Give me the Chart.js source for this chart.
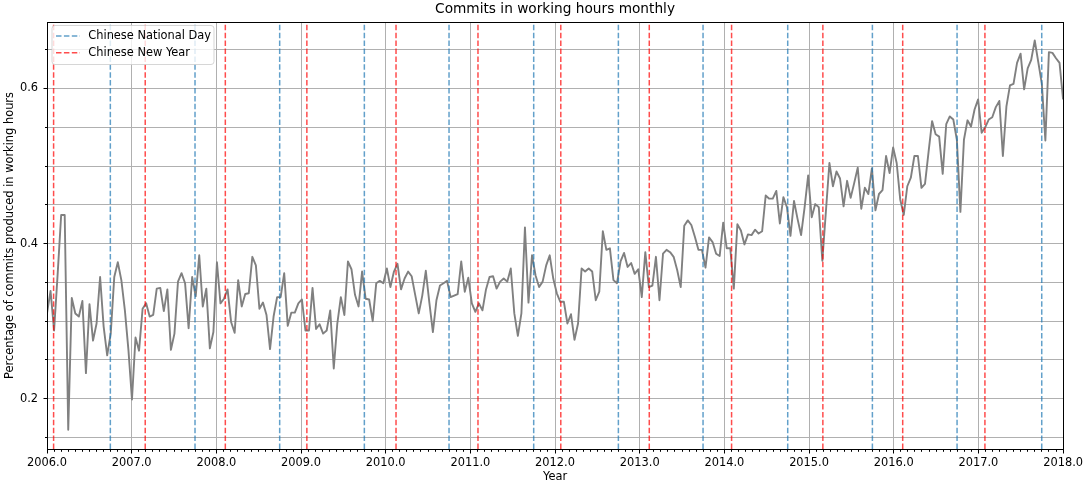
<!DOCTYPE html>
<html>
<head>
<meta charset="utf-8">
<title>Commits in working hours monthly</title>
<script src="https://cdn.jsdelivr.net/npm/chart.js@4.4.1/dist/chart.umd.min.js"></script>
<style>
  html, body { margin: 0; padding: 0; background: #fff; }
  #box { position: relative; width: 1086px; height: 484px; }
</style>
</head>
<body>
<div id="box"><canvas id="chart" width="1086" height="484"></canvas></div>
<script>
const FIRST_YEAR = 2006;
const LAST_YEAR = 2018;
const Y_MIN = 0.1352;
const Y_MAX = 0.6858;

const chartTitle = 'Commits in working hours monthly';
const xTitle = 'Year';
const yTitle = 'Percentage of commits produced in working hours';
const nationalDayLabel = 'Chinese National Day';
const newYearLabel = 'Chinese New Year';

// Share of commits made during working hours, 24 samples per year (2006 .. 2017)
const workingShare = [
  0.310, 0.339, 0.288, 0.360, 0.437, 0.437, 0.160, 0.330, 0.310, 0.306, 0.326, 0.233, 0.322, 0.275, 0.297, 0.357, 0.293, 0.256, 0.284, 0.357, 0.376, 0.353, 0.314, 0.263,
  0.199, 0.279, 0.262, 0.316, 0.323, 0.306, 0.308, 0.342, 0.343, 0.313, 0.341, 0.263, 0.284, 0.351, 0.362, 0.349, 0.291, 0.357, 0.332, 0.385, 0.319, 0.342, 0.265, 0.286,
  0.376, 0.323, 0.329, 0.341, 0.299, 0.285, 0.353, 0.319, 0.335, 0.336, 0.383, 0.372, 0.316, 0.324, 0.308, 0.264, 0.306, 0.331, 0.331, 0.362, 0.294, 0.311, 0.311, 0.323,
  0.328, 0.288, 0.288, 0.343, 0.290, 0.296, 0.284, 0.288, 0.314, 0.239, 0.297, 0.331, 0.308, 0.377, 0.367, 0.334, 0.319, 0.364, 0.329, 0.328, 0.300, 0.349, 0.352, 0.349,
  0.368, 0.344, 0.364, 0.374, 0.341, 0.355, 0.364, 0.358, 0.334, 0.310, 0.333, 0.365, 0.324, 0.286, 0.327, 0.346, 0.349, 0.352, 0.331, 0.333, 0.335, 0.377, 0.338, 0.356,
  0.323, 0.312, 0.323, 0.314, 0.341, 0.357, 0.358, 0.342, 0.351, 0.355, 0.351, 0.368, 0.310, 0.281, 0.310, 0.421, 0.324, 0.385, 0.359, 0.344, 0.351, 0.372, 0.385, 0.355,
  0.336, 0.325, 0.325, 0.297, 0.309, 0.276, 0.297, 0.368, 0.364, 0.368, 0.364, 0.327, 0.338, 0.416, 0.392, 0.394, 0.353, 0.349, 0.377, 0.388, 0.370, 0.375, 0.361, 0.367,
  0.331, 0.389, 0.344, 0.346, 0.383, 0.327, 0.387, 0.392, 0.389, 0.383, 0.366, 0.344, 0.423, 0.430, 0.424, 0.409, 0.392, 0.392, 0.369, 0.408, 0.402, 0.387, 0.384, 0.427,
  0.394, 0.394, 0.342, 0.425, 0.417, 0.399, 0.412, 0.411, 0.418, 0.413, 0.416, 0.462, 0.458, 0.458, 0.468, 0.426, 0.460, 0.447, 0.410, 0.455, 0.432, 0.411, 0.447, 0.488,
  0.434, 0.451, 0.447, 0.378, 0.441, 0.504, 0.474, 0.493, 0.484, 0.448, 0.481, 0.459, 0.478, 0.498, 0.445, 0.472, 0.464, 0.497, 0.443, 0.464, 0.469, 0.513, 0.491, 0.524,
  0.504, 0.457, 0.437, 0.474, 0.485, 0.513, 0.513, 0.472, 0.477, 0.518, 0.558, 0.541, 0.538, 0.490, 0.554, 0.564, 0.560, 0.534, 0.441, 0.534, 0.559, 0.551, 0.573, 0.586,
  0.543, 0.550, 0.560, 0.563, 0.576, 0.584, 0.513, 0.577, 0.604, 0.606, 0.633, 0.645, 0.599, 0.626, 0.637, 0.662, 0.634, 0.606, 0.533, 0.647, 0.646, 0.639, 0.633, 0.586
];

// Holiday markers, as fractional years
const nationalDays = [2006.748, 2007.748, 2008.748, 2009.748, 2010.748, 2011.748,
                      2012.748, 2013.748, 2014.748, 2015.748, 2016.748, 2017.748];
const newYearDays  = [2006.078, 2007.160, 2008.106, 2009.069, 2010.122, 2011.090,
                      2012.068, 2013.113, 2014.085, 2015.163, 2016.106, 2017.077];

const FONT = '"DejaVu Sans", "Liberation Sans", sans-serif';
const GRID = '#b0b0b0';

// samples are spread evenly over the whole period
const span = LAST_YEAR - FIRST_YEAR;
const shareData = workingShare.map((v, i) => ({ x: FIRST_YEAR + i * span / (workingShare.length - 1), y: v }));

// one vertical segment per holiday, separated by gaps
function markerData(positions) {
  const pts = [];
  positions.forEach(x => { pts.push({ x, y: Y_MIN }, { x, y: Y_MAX }, { x, y: null }); });
  return pts;
}

function isLabelled(v) { return Math.abs(v * 5 - Math.round(v * 5)) < 1e-6; }
function crisp(v) { return Math.round(v - 0.5) + 0.5; }

const decorations = {
  id: 'decorations',
  afterDraw(chart) {
    const { ctx, chartArea: a, scales: { x, y } } = chart;
    ctx.save();
    ctx.setLineDash([]);

    // axes frame
    ctx.strokeStyle = '#000';
    ctx.lineWidth = 1;
    const L = crisp(a.left), R = crisp(a.right), T = crisp(a.top), B = crisp(a.bottom);
    ctx.strokeRect(L, T, R - L, B - T);

    // tick marks: years / months on x, every gridline on y
    ctx.beginPath();
    for (let yr = FIRST_YEAR; yr <= LAST_YEAR; yr++) {
      for (let m = 0; m < 12; m++) {
        if (yr === LAST_YEAR && m > 0) break;
        const px = crisp(x.getPixelForValue(yr + m / 12));
        const len = m === 0 ? 4 : 2.3;
        ctx.moveTo(px, B); ctx.lineTo(px, B + len);
      }
    }
    y.ticks.forEach(t => {
      const py = crisp(y.getPixelForValue(t.value));
      const len = isLabelled(t.value) ? 4 : 2.5;
      ctx.moveTo(L, py); ctx.lineTo(L - len, py);
    });
    ctx.stroke();

    // legend
    const entries = chart.data.datasets.filter(d => d.showInLegend);
    const bx = 52, by = 25.5, bw = 162, bh = 39, r = 3;
    ctx.beginPath();
    ctx.moveTo(bx + r, by);
    ctx.arcTo(bx + bw, by, bx + bw, by + bh, r);
    ctx.arcTo(bx + bw, by + bh, bx, by + bh, r);
    ctx.arcTo(bx, by + bh, bx, by, r);
    ctx.arcTo(bx, by, bx + bw, by, r);
    ctx.closePath();
    ctx.fillStyle = 'rgba(255,255,255,0.8)';
    ctx.fill();
    ctx.strokeStyle = 'rgba(204,204,204,0.8)';
    ctx.lineWidth = 1;
    ctx.stroke();
    ctx.font = '11.4px ' + FONT;
    ctx.textBaseline = 'middle';
    ctx.textAlign = 'left';
    entries.forEach((d, k) => {
      const ly = 36 + k * 16.7;
      ctx.beginPath();
      ctx.strokeStyle = d.borderColor;
      ctx.lineWidth = d.borderWidth;
      ctx.setLineDash(d.borderDash);
      ctx.moveTo(56, ly); ctx.lineTo(80, ly);
      ctx.stroke();
      ctx.setLineDash([]);
      ctx.fillStyle = '#000';
      ctx.fillText(d.label, 88.3, ly);
    });

    // titles
    ctx.fillStyle = '#000';
    ctx.textAlign = 'center';
    ctx.textBaseline = 'middle';
    ctx.font = '13.7px ' + FONT;
    ctx.fillText(chartTitle, (a.left + a.right) / 2, 9.5);
    ctx.font = '11.4px ' + FONT;
    ctx.fillText(xTitle, (a.left + a.right) / 2, 477);
    ctx.translate(10.5, (a.top + a.bottom) / 2);
    ctx.rotate(-Math.PI / 2);
    ctx.fillText(yTitle, 0, 0);
    ctx.restore();
  }
};

new Chart(document.getElementById('chart').getContext('2d'), {
  type: 'line',
  data: {
    datasets: [
      { label: 'share', data: shareData, borderColor: '#808080', borderWidth: 1.9,
        borderJoinStyle: 'round', pointRadius: 0, tension: 0, order: 2, showInLegend: false },
      { label: nationalDayLabel, data: markerData(nationalDays), borderColor: 'rgba(31,119,180,0.7)',
        borderWidth: 1.5, borderDash: [5.5, 2.4], pointRadius: 0, spanGaps: false, order: 1, showInLegend: true },
      { label: newYearLabel, data: markerData(newYearDays), borderColor: 'rgba(255,0,0,0.7)',
        borderWidth: 1.5, borderDash: [5.5, 2.4], pointRadius: 0, spanGaps: false, order: 1, showInLegend: true }
    ]
  },
  options: {
    responsive: false,
    animation: false,
    devicePixelRatio: 1,
    events: [],
    layout: { padding: { top: 22, right: 22, left: 0, bottom: 0 } },
    plugins: { legend: { display: false }, title: { display: false }, tooltip: { enabled: false } },
    scales: {
      x: {
        type: 'linear', min: FIRST_YEAR, max: LAST_YEAR,
        afterFit(s) { s.height = 35; },
        border: { display: false },
        grid: { color: GRID, lineWidth: 1, tickLength: 4, tickColor: 'rgba(0,0,0,0)' },
        ticks: { stepSize: 1, includeBounds: false, autoSkip: false, maxRotation: 0, padding: 3,
                 color: '#000', font: { family: FONT, size: 11.4 }, callback: v => v.toFixed(1) }
      },
      y: {
        type: 'linear', min: Y_MIN, max: Y_MAX,
        afterFit(s) { s.width = 47; },
        border: { display: false },
        grid: { color: GRID, lineWidth: 1, tickLength: 4, tickColor: 'rgba(0,0,0,0)' },
        ticks: { stepSize: 0.05, includeBounds: false, autoSkip: false, padding: 5,
                 color: '#000', font: { family: FONT, size: 11.4 },
                 callback: v => isLabelled(v) ? v.toFixed(1) : '' }
      }
    }
  },
  plugins: [decorations]
});
</script>
</body>
</html>
